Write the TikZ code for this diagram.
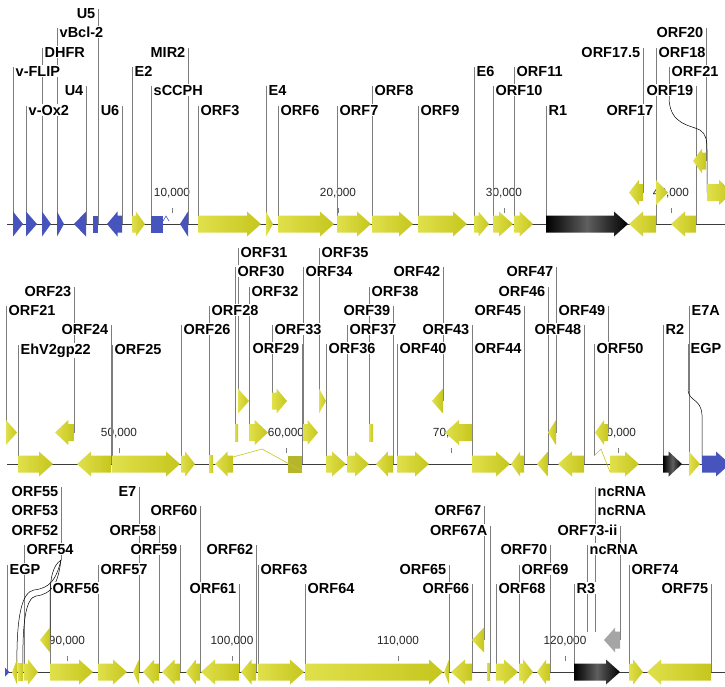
\documentclass[tikz,border=0pt]{standalone}
\usepackage{fontspec}
\setmainfont{Liberation Sans}
\usepackage{tikz}
\usepackage{xcolor}
\definecolor{gene_light}{RGB}{224,224,76}
\definecolor{gene_dark}{RGB}{198,198,30}
\definecolor{gene_block}{RGB}{182,182,44}
\definecolor{host}{RGB}{72,84,190}
\definecolor{repeat_mid}{RGB}{95,95,95}
\definecolor{ncrna}{RGB}{165,165,165}
\definecolor{leader}{RGB}{125,125,125}
\definecolor{genome}{RGB}{60,60,60}

\pgfdeclarelayer{back}
\pgfsetlayers{back,main}

\tikzset{
  yel/.style={left color=gene_light, right color=gene_dark},
  olv/.style={fill=gene_block},
  blu/.style={fill=host},
  blk/.style={left color=black, right color=black, middle color=repeat_mid},
  gry/.style={fill=ncrna},
  leader line/.style={draw=leader, line width=0.7pt},
  bend line/.style={draw=black, line width=0.5pt},
  genome line/.style={draw=genome, line width=1pt},
  intron/.style={line width=0.6pt},
  lab/.style={fill=white, inner sep=1pt, font=\bfseries\fontsize{14.5}{15}\selectfont},
  labr/.style={anchor=base west, xshift=1.5pt},
  labl/.style={anchor=base east, xshift=-1.5pt},
  ruler/.style={inner sep=0pt, font=\fontsize{11.8}{12}\selectfont, text=black!85}
}

% gene: name, start, end, y, r/l arrow or R/L block, style
\newcommand\orf[6]{%
  \pgfmathsetmacro\len{#3-#2}%
  \pgfmathsetmacro\hd{\len<=12 ? \len : min(14,0.7*\len)}%
  \if r#5 \path[#6] (#2,#4-8.5) -- (#3-\hd,#4-8.5) -- (#3-\hd,#4-12.5) -- (#3,#4)
      -- (#3-\hd,#4+12.5) -- (#3-\hd,#4+8.5) -- (#2,#4+8.5) -- cycle;
      \coordinate (#1) at (#2,#4); \fi
  \if l#5 \path[#6] (#3,#4-8.5) -- (#2+\hd,#4-8.5) -- (#2+\hd,#4-12.5) -- (#2,#4)
      -- (#2+\hd,#4+12.5) -- (#2+\hd,#4+8.5) -- (#3,#4+8.5) -- cycle;
      \coordinate (#1) at (#3,#4); \fi
  \if R#5 \path[#6] (#2,#4-8.5) rectangle (#3,#4+8.5); \coordinate (#1) at (#2,#4); \fi
  \if L#5 \path[#6] (#2,#4-8.5) rectangle (#3,#4+8.5); \coordinate (#1) at (#3,#4); \fi
}

\begin{document}
\begin{tikzpicture}[x=1pt, y=-1pt]
\useasboundingbox (0,0) rectangle (725,686);
\clip (0,0) rectangle (725,686);

\begin{pgfonlayer}{back}
  \foreach \y/\s in {224/7, 464/7, 672/5}
    \draw[genome line] (\s,\y) -- (725,\y);
  \foreach \x/\y/\t in {172/224/{10,000}, 338/224/{20,000}, 504/224/{30,000}, 671/224/{40,000},
                        119/464/{50,000}, 286/464/{60,000}, 451/464/{70,000}, 618/464/{80,000},
                        67/672/{90,000}, 232/672/{100,000}, 398/672/{110,000}, 565/672/{120,000}}{
    \draw[leader line] (\x,\y-16) -- (\x,\y-11);
    \node[ruler] (s\x-\y) at (\x,\y-31) {\t};
  }
\end{pgfonlayer}

% row 1
\foreach \n/\a/\b/\y/\d/\c in {vflip/13/23/224/r/blu, vox2/26/37/224/r/blu, dhfr/42/51/224/r/blu,
    vbcl/57/64/224/r/blu, u4/74/86/224/l/blu, u5/93/98/224/L/blu, u6/107/122/224/l/blu,
    e2/132/145/224/r/yel, sccph/151/163/224/R/blu, mir2/180/188/224/l/blu, orf3/198/261/224/r/yel,
    e4/266/273/224/r/yel, orf6/278/334/224/r/yel, orf7/337/371/224/r/yel, orf8/372/413/224/r/yel,
    orf9/418/467/224/r/yel, e6/474/489/224/r/yel, orf10/493/513/224/r/yel, orf11/514/533/224/r/yel,
    r1/546/628/224/r/blk, orf17/629/656/224/l/yel, orf17x/629/643/192.5/l/yel,
    orf18/656/668/192.5/r/yel, orf19/671/696/224/l/yel, orf20/693/706/161/l/yel,
    orf21a/707/733/192.5/r/yel}
  \orf{\n}{\a}{\b}{\y}{\d}{\c};

% row 2
\foreach \n/\a/\b/\y/\d/\c in {orf21b/6/17/432.5/r/yel, ehv/18/53/464/r/yel, orf23/55/74/432.5/l/yel,
    orf24/77/111/464/l/yel, orf25/112/180/464/r/yel, orf26/181/195/464/r/yel, orf28/209/213/464/R/yel,
    orf29a/215/233/464/l/yel, orf29/288/302/464/L/olv, orf30/235/238/432.5/R/yel,
    orf31/238/249/401/r/yel, orf32/249/268/432.5/r/yel, orf33/272/287/401/r/yel,
    orf34/303/318/432.5/r/yel, orf35/319/326/401/r/yel, orf36/326/346/464/r/yel,
    orf37/347/369/464/r/yel, orf38/369/373/432.5/R/yel, orf39/376/393/464/l/yel,
    orf40/397/429/464/r/yel, orf42/432/443/401/l/yel, orf43/445/472/432.5/l/yel,
    orf44/472/510/464/r/yel, orf45/511/524/464/l/yel, orf46/537/548/464/l/yel,
    orf47/548/556/432.5/l/yel, orf48/558/584/464/l/yel, orf49/595/608/432.5/l/yel,
    orf50x/610/639/464/r/yel, r2/663/682/464/r/blk, e7a/689/700/464/r/yel, egp/702/730/464/r/blu}
  \orf{\n}{\a}{\b}{\y}{\d}{\c};

% row 3
\foreach \n/\a/\b/\y/\d/\c in {g53/12/17/672/l/yel, g52/18/23/672/L/yel, orf54/24/38/672/r/yel,
    g55/40/50/640/l/yel, orf56/50/93/672/r/yel, orf57/98/127/672/r/yel, e7/133/139/672/l/yel,
    orf58/143/159/672/l/yel, orf59/162/180/672/l/yel, orf60/186/200/672/l/yel,
    orf61/201/239/672/l/yel, orf62/241/256/672/l/yel, orf63/258/304/672/r/yel,
    orf64/305/443/672/r/yel, orf65/444/449/672/l/yel, orf66/451/472/672/l/yel,
    orf67/472/484/640/l/yel, orf67a/487/490/672/L/yel, orf68/496/518/672/r/yel,
    orf69/519/533/672/r/yel, orf70/537/550/672/l/yel, r3/574/620/672/r/blk,
    orf73/604/620/640/l/gry, orf74/629/643/672/r/yel, orf75/647/711/672/l/yel}
  \orf{\n}{\a}{\b}{\y}{\d}{\c};

\path[blu] (5,667.5) -- (9.5,672) -- (5,676.5) -- cycle;
\coordinate (egp3) at (7,672);
\coordinate (orf50) at (594,456);
\coordinate (nca) at (595,632);
\coordinate (ncb) at (595,632);
\coordinate (ncc) at (587,632);

% introns
\draw[intron, draw=host] (sccph) ++(12,-3) -- ++(3,-5) -- ++(3,5);
\draw[intron, draw=gene_dark] (orf29a) ++(0,-7) -- (262,449) -- ([yshift=-7]orf29.west |- orf29);
\draw[intron, draw=gene_dark] (orf50) -- (601,449) -- ([yshift=-8]orf50x);

\foreach \n/\t/\v/\s in {vflip/v-FLIP/71/labr, vox2/v-Ox2/110/labr, dhfr/DHFR/52/labr,
    vbcl/vBcl-2/32/labr, u4/U4/90/labl, u5/U5/13/labl, u6/U6/110/labl, e2/E2/71/labr,
    sccph/sCCPH/90/labr, mir2/MIR2/52/labl, orf3/ORF3/110/labr, e4/E4/90/labr,
    orf6/ORF6/110/labr, orf7/ORF7/110/labr, orf8/ORF8/90/labr, orf9/ORF9/110/labr,
    e6/E6/71/labr, orf10/ORF10/90/labr, orf11/ORF11/71/labr, r1/R1/110/labr,
    orf17/ORF17/110/labl, orf17x/ORF17.5/52/labl, orf18/ORF18/52/labr, orf19/ORF19/90/labl,
    orf20/ORF20/32/labl,
    orf21b/ORF21/310/labr, ehv/EhV2gp22/349/labr, orf23/ORF23/291/labl, orf24/ORF24/329/labl,
    orf25/ORF25/349/labr, orf26/ORF26/329/labr, orf28/ORF28/310/labr, orf29/ORF29/348/labl,
    orf30/ORF30/271/labr, orf31/ORF31/252/labr, orf32/ORF32/291/labr, orf33/ORF33/329/labr,
    orf34/ORF34/271/labr, orf35/ORF35/252/labr, orf36/ORF36/348/labr, orf37/ORF37/329/labr,
    orf38/ORF38/291/labr, orf39/ORF39/310/labl, orf40/ORF40/348/labr, orf42/ORF42/271/labl,
    orf43/ORF43/329/labl, orf44/ORF44/348/labr, orf45/ORF45/310/labl, orf46/ORF46/291/labl,
    orf47/ORF47/271/labl, orf48/ORF48/329/labl, orf49/ORF49/310/labl, orf50/ORF50/348/labr,
    r2/R2/329/labr, e7a/E7A/310/labr,
    egp3/EGP/569/labr, orf54/ORF54/549/labr, orf56/ORF56/588/labr, orf57/ORF57/569/labr,
    e7/E7/491/labl, orf58/ORF58/530/labl, orf59/ORF59/549/labl, orf60/ORF60/510/labl,
    orf61/ORF61/588/labl, orf62/ORF62/549/labl, orf63/ORF63/569/labr, orf64/ORF64/588/labr,
    orf65/ORF65/569/labl, orf66/ORF66/588/labl, orf67/ORF67/510/labl, orf67a/ORF67A/530/labl,
    orf68/ORF68/588/labr, orf69/ORF69/569/labr, orf70/ORF70/549/labl, r3/R3/588/labr,
    nca/ncRNA/491/labr, ncb/ncRNA/510/labr, orf73/ORF73-ii/530/labl, ncc/ncRNA/549/labr,
    orf74/ORF74/569/labr, orf75/ORF75/588/labl}{
  \begin{pgfonlayer}{back}
    \draw[leader line] (\n |- 0,\v-4) -- (\n);
  \end{pgfonlayer}
  \node[lab,\s] (t-\n) at (\n |- 0,\v+5.2) {\t};
}

% leaders that bend over to their gene
\coordinate (k-orf21) at (669,100);
\coordinate (k-egp) at (688,390);
\coordinate (k-orf52) at (61,560);
\begin{pgfonlayer}{back}
  \draw[leader line] (k-orf21 |- 0,67) -- (k-orf21);
  \draw[bend line] (k-orf21) .. controls (671,125) and (690,125) .. (700,130)
    .. controls (706,134) and (707,140) .. (707,150) -- (orf21a);
  \draw[leader line] (k-egp |- 0,344) -- (k-egp);
  \draw[bend line] (k-egp) .. controls (689,402) and (701,398) .. (702,415) -- (egp);
  \draw[leader line] (k-orf52 |- 0,487) -- (k-orf52);
  \draw[bend line] (k-orf52) .. controls (52,566) and (50,580) .. (50,600) -- (g55);
  \draw[bend line] (k-orf52) .. controls (56,580) and (50,588) .. (34,590)
    .. controls (22,592) and (16,615) .. (g53);
  \draw[bend line] (k-orf52) .. controls (58,584) and (52,594) .. (36,596)
    .. controls (26,598) and (22,620) .. (g52);
\end{pgfonlayer}
\node[lab,labr] (t-orf21a) at (k-orf21 |- 0,76.2) {ORF21};
\node[lab,labr] (t-egp) at (k-egp |- 0,353.2) {EGP};
\foreach \t/\v in {ORF55/491, ORF53/510, ORF52/530}
  \node[lab,labl] (t-\t) at (k-orf52 |- 0,\v+5.2) {\t};
\end{tikzpicture}
\end{document}
